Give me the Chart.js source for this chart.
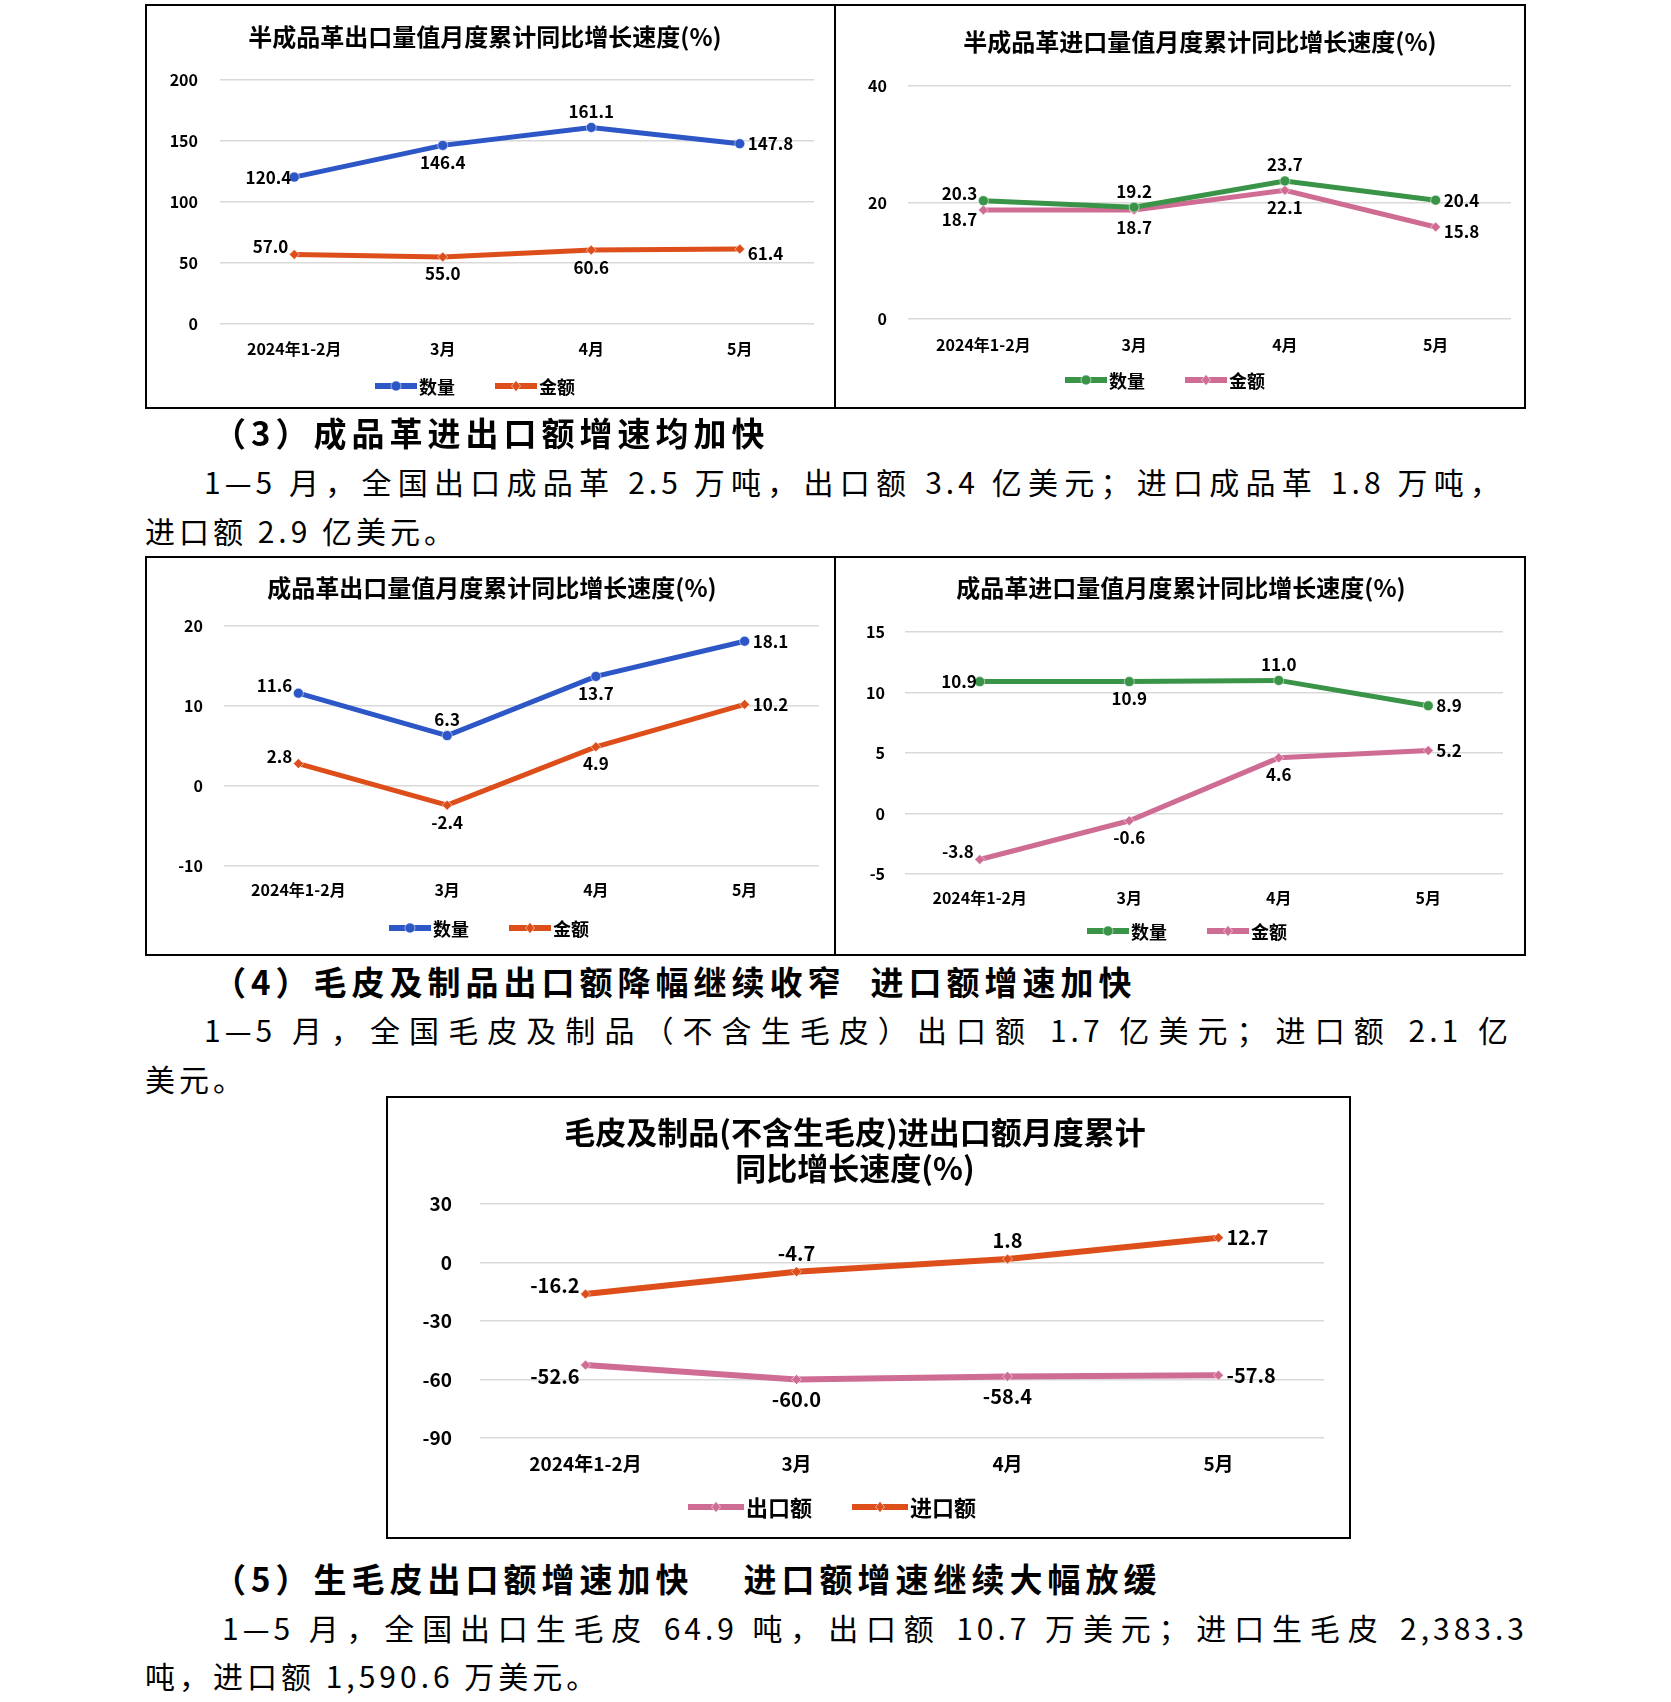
<!DOCTYPE html>
<html>
<head>
<meta charset="utf-8">
<script src="https://cdn.jsdelivr.net/npm/chart.js@4.4.1/dist/chart.umd.min.js"></script>
<style>
  html, body { margin: 0; padding: 0; background: #fff; }
  body { width: 1671px; height: 1702px; position: relative; overflow: hidden;
         font-family: "Noto Sans CJK SC", sans-serif; color: #000; }
  .box { position: absolute; border: 2px solid #000; box-sizing: border-box; }
  .cv { position: absolute; }
  .h { position: absolute; font-size: 33px; font-weight: bold; line-height: 33px;
       letter-spacing: 5px; white-space: pre; }
  .p { position: absolute; font-size: 30px; line-height: 30px; letter-spacing: 4px; white-space: pre; }
  .j { text-align: justify; text-align-last: justify; white-space: normal; }
</style>
</head>
<body>

<div class="box" style="left:145px;top:4px;width:691px;height:405px"></div>
<div class="box" style="left:834px;top:4px;width:692px;height:405px"></div>
<div class="cv" style="left:145px;top:4px"><canvas id="c1"></canvas></div>
<div class="cv" style="left:834px;top:4px"><canvas id="c2"></canvas></div>

<div class="h" style="left:213px;top:416px">（3）成品革进出口额增速均加快</div>
<div class="p j" style="left:204px;top:466px;width:1300px">1—5 月，全国出口成品革 2.5 万吨，出口额 3.4 亿美元；进口成品革 1.8 万吨，</div>
<div class="p" style="left:145px;top:515px">进口额 2.9 亿美元。</div>

<div class="box" style="left:145px;top:556px;width:691px;height:400px"></div>
<div class="box" style="left:834px;top:556px;width:692px;height:400px"></div>
<div class="cv" style="left:145px;top:556px"><canvas id="c3"></canvas></div>
<div class="cv" style="left:834px;top:556px"><canvas id="c4"></canvas></div>

<div class="h" style="left:213px;top:965px">（4）毛皮及制品出口额降幅继续收窄  进口额增速加快</div>
<div class="p j" style="left:204px;top:1014px;width:1308px">1—5 月，全国毛皮及制品（不含生毛皮）出口额 1.7 亿美元；进口额 2.1 亿</div>
<div class="p" style="left:145px;top:1063px">美元。</div>

<div class="box" style="left:386px;top:1096px;width:965px;height:443px"></div>
<div class="cv" style="left:386px;top:1096px"><canvas id="c5"></canvas></div>

<div class="h" style="left:213px;top:1562px">（5）生毛皮出口额增速加快    进口额增速继续大幅放缓</div>
<div class="p j" style="left:222px;top:1612px;width:1306px">1—5 月，全国出口生毛皮 64.9 吨，出口额 10.7 万美元；进口生毛皮 2,383.3</div>
<div class="p" style="left:145px;top:1660px">吨，进口额 1,590.6 万美元。</div>

<script>
// ---- data ----
const months = ['2024年1-2月', '3月', '4月', '5月'];

const semiExportQty = [120.4, 146.4, 161.1, 147.8];
const semiExportVal = [57.0, 55.0, 60.6, 61.4];

const semiImportQty = [20.3, 19.2, 23.7, 20.4];
const semiImportVal = [18.7, 18.7, 22.1, 15.8];

const finExportQty = [11.6, 6.3, 13.7, 18.1];
const finExportVal = [2.8, -2.4, 4.9, 10.2];

const finImportQty = [10.9, 10.9, 11.0, 8.9];
const finImportVal = [-3.8, -0.6, 4.6, 5.2];

const furExport = [-52.6, -60.0, -58.4, -57.8];
const furImport = [-16.2, -4.7, 1.8, 12.7];

// label placement per point (t=above, b=below, l=left, r=right, lt/lb/rb=corners)
const pos1a = ['l', 'b', 't', 'r'];
const pos1b = ['lt', 'b', 'b', 'rb'];
const pos2a = ['lt', 't', 't', 'r'];
const pos2b = ['lb', 'b', 'b', 'rb'];
const pos3a = ['lt', 't', 'b', 'r'];
const pos3b = ['lt', 'b', 'b', 'r'];
const pos4a = ['l', 'b', 't', 'r'];
const pos4b = ['lt', 'b', 'b', 'r'];
const pos5a = ['lb', 'b', 'b', 'r'];
const pos5b = ['lt', 't', 't', 'r'];

const BLUE = '#2d56c6', ORANGE = '#dd4e1a', GREEN = '#3a9448', PINK = '#cf6c94';
const FONT = '"Noto Sans CJK SC", sans-serif';

function series(label, data, color, style, posArr, lw) {
    return {
        label: label,
        data: data,
        borderColor: color,
        backgroundColor: color,
        borderWidth: lw,
        pointStyle: style,
        pointRadius: 5,
        pointBorderWidth: 1,
        pointBorderColor: '#ffffff88',
        fill: false,
        tension: 0,
        labelPos: posArr
    };
}

// draws point values, title and legend
const decor = {
    id: 'decor',
    afterDatasetsDraw(chart) {
        const ctx = chart.ctx;
        const g = chart.options.plugins.decor;
        const s = g.valSize / 16;
        ctx.save();
        ctx.fillStyle = '#000';
        ctx.font = 'bold ' + g.valSize + 'px ' + FONT;
        chart.data.datasets.forEach((ds, i) => {
            const meta = chart.getDatasetMeta(i);
            meta.data.forEach((pt, k) => {
                const p = ds.labelPos[k];
                const txt = ds.data[k].toFixed(1);
                let x = pt.x, y = pt.y;
                ctx.textBaseline = 'middle';
                ctx.textAlign = 'center';
                if (p === 't') { y -= 15 * s; }
                else if (p === 'b') { y += 16 * s; }
                else if (p === 'l') { ctx.textAlign = 'right'; x -= 3; }
                else if (p === 'r') { ctx.textAlign = 'left'; x += 8; }
                else if (p === 'lt') { ctx.textAlign = 'right'; x -= 6; y -= 7 * s; }
                else if (p === 'lb') { ctx.textAlign = 'right'; x -= 6; y += 9 * s; }
                else if (p === 'rb') { ctx.textAlign = 'left'; x += 8; y += 4 * s; }
                ctx.fillText(txt, x, y);
            });
        });
        // title
        ctx.textAlign = 'center';
        ctx.textBaseline = 'middle';
        ctx.font = 'bold ' + g.titleSize + 'px ' + FONT;
        g.title.forEach((t, i) => ctx.fillText(t, g.titleX, g.titleY + i * g.titleGap));
        // legend
        ctx.font = 'bold ' + g.legSize + 'px ' + FONT;
        const lineW = g.legLine, gap = 40;
        const items = chart.data.datasets.map(ds => ({ ds: ds, w: lineW + ctx.measureText(ds.label).width }));
        const total = items.reduce((sum, it) => sum + it.w, 0) + gap * (items.length - 1);
        let x = g.legX - total / 2;
        const y = g.legY;
        items.forEach(it => {
            ctx.strokeStyle = it.ds.borderColor;
            ctx.lineWidth = 6;
            ctx.beginPath();
            ctx.moveTo(x, y);
            ctx.lineTo(x + lineW - 2, y);
            ctx.stroke();
            ctx.fillStyle = it.ds.borderColor;
            const cx = x + lineW / 2 - 1;
            ctx.beginPath();
            if (it.ds.pointStyle === 'circle') {
                ctx.arc(cx, y, 5, 0, Math.PI * 2);
            } else {
                ctx.moveTo(cx, y - 5.5); ctx.lineTo(cx + 4.5, y); ctx.lineTo(cx, y + 5.5); ctx.lineTo(cx - 4.5, y);
                ctx.closePath();
            }
            ctx.fill();
            ctx.strokeStyle = '#ffffff88';
            ctx.lineWidth = 1;
            ctx.stroke();
            ctx.fillStyle = '#000';
            ctx.textAlign = 'left';
            ctx.fillText(it.ds.label, x + lineW, y + 1);
            x += it.w + gap;
        });
        ctx.restore();
    }
};

function makeChart(id, L, datasets, yMin, yMax, yStep) {
    const cv = document.getElementById(id);
    cv.width = L.w; cv.height = L.h;
    const xAxisH = 40;
    return new Chart(cv, {
        type: 'line',
        data: { labels: months, datasets: datasets },
        plugins: [decor],
        options: {
            responsive: false,
            animation: false,
            devicePixelRatio: 1,
            layout: {
                padding: { left: 0, top: L.top, right: L.w - L.right, bottom: L.h - L.bottom - xAxisH }
            },
            plugins: {
                legend: { display: false },
                title: { display: false },
                tooltip: { enabled: false },
                decor: {
                    title: L.title, titleX: L.titleX, titleY: L.titleY, titleGap: L.titleGap || 0,
                    titleSize: L.titleSize, legX: L.legX, legY: L.legY, legSize: L.legSize,
                    legLine: L.legLine, valSize: L.valSize
                }
            },
            scales: {
                x: {
                    offset: true,
                    grid: { display: false, drawTicks: false },
                    border: { display: false },
                    ticks: { color: '#000', padding: L.xPad, font: { family: FONT, size: L.tickSize, weight: 'bold' } },
                    afterFit: s => { s.height = xAxisH; }
                },
                y: {
                    min: yMin, max: yMax,
                    grid: { color: '#d9d9d9', lineWidth: 1.5, drawTicks: false },
                    border: { display: false },
                    ticks: { stepSize: yStep, color: '#000', padding: L.yPad, font: { family: FONT, size: L.tickSize, weight: 'bold' } },
                    afterFit: s => { s.width = L.left; }
                }
            }
        }
    });
}

// ---- layouts (relative to each framed box) ----
const lay1 = { w: 691, h: 405, left: 75, right: 669, top: 76, bottom: 320, xPad: 15, yPad: 22,
    title: ['半成品革出口量值月度累计同比增长速度(%)'], titleX: 340, titleY: 33, titleSize: 24,
    legX: 330, legY: 382, legSize: 18, legLine: 44, tickSize: 16, valSize: 17 };
const lay2 = { w: 692, h: 405, left: 74, right: 677, top: 82, bottom: 315, xPad: 16, yPad: 21,
    title: ['半成品革进口量值月度累计同比增长速度(%)'], titleX: 366, titleY: 38, titleSize: 24,
    legX: 331, legY: 376, legSize: 18, legLine: 44, tickSize: 16, valSize: 17 };
const lay3 = { w: 691, h: 400, left: 79, right: 674, top: 70, bottom: 310, xPad: 14, yPad: 21,
    title: ['成品革出口量值月度累计同比增长速度(%)'], titleX: 347, titleY: 32, titleSize: 24,
    legX: 344, legY: 372, legSize: 18, legLine: 44, tickSize: 16, valSize: 17 };
const lay4 = { w: 692, h: 400, left: 71, right: 669, top: 76, bottom: 318, xPad: 14, yPad: 20,
    title: ['成品革进口量值月度累计同比增长速度(%)'], titleX: 347, titleY: 32, titleSize: 24,
    legX: 353, legY: 375, legSize: 18, legLine: 44, tickSize: 16, valSize: 17 };
const lay5 = { w: 965, h: 443, left: 94, right: 938, top: 108, bottom: 342, xPad: 14, yPad: 28,
    title: ['毛皮及制品(不含生毛皮)进出口额月度累计', '同比增长速度(%)'], titleX: 469, titleY: 36, titleGap: 36,
    titleSize: 31, legX: 446, legY: 411, legSize: 22, legLine: 58, tickSize: 19, valSize: 20 };

makeChart('c1', lay1, [
    series('数量', semiExportQty, BLUE, 'circle', pos1a, 5),
    series('金额', semiExportVal, ORANGE, 'rectRot', pos1b, 5)
], 0, 200, 50);

makeChart('c2', lay2, [
    series('数量', semiImportQty, GREEN, 'circle', pos2a, 5),
    series('金额', semiImportVal, PINK, 'rectRot', pos2b, 5)
], 0, 40, 20);

makeChart('c3', lay3, [
    series('数量', finExportQty, BLUE, 'circle', pos3a, 5),
    series('金额', finExportVal, ORANGE, 'rectRot', pos3b, 5)
], -10, 20, 10);

makeChart('c4', lay4, [
    series('数量', finImportQty, GREEN, 'circle', pos4a, 5),
    series('金额', finImportVal, PINK, 'rectRot', pos4b, 5)
], -5, 15, 5);

makeChart('c5', lay5, [
    series('出口额', furExport, PINK, 'rectRot', pos5a, 6),
    series('进口额', furImport, ORANGE, 'rectRot', pos5b, 6)
], -90, 30, 30);
</script>
</body>
</html>
